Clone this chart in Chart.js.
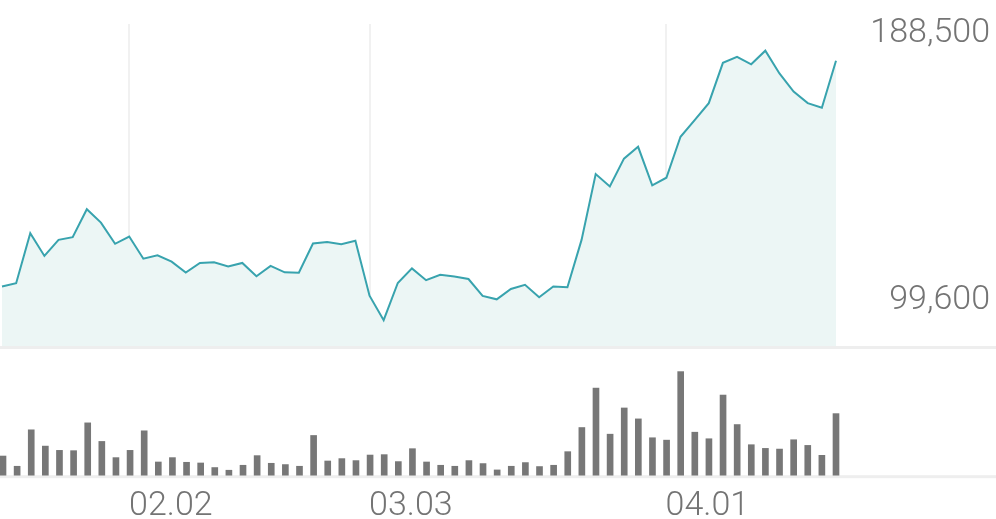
<!DOCTYPE html>
<html lang="ko">
<head>
<meta charset="UTF-8">
<title>Price chart</title>
<style>
    body { margin: 0; background: #ffffff; }
    .wrap { position: relative; width: 996px; height: 519px; overflow: hidden; }
    #priceChart { position: absolute; left: 0; top: 0; }
    #volumeChart { position: absolute; left: 0; top: 350px; }
</style>
<script src="https://cdn.jsdelivr.net/npm/chart.js"></script>
</head>
<body>
<div class="wrap">
    <canvas id="priceChart" width="996" height="350"></canvas>
    <canvas id="volumeChart" width="996" height="169"></canvas>
</div>
<script>
// trading days (MM.DD)
const dates = [
    '01.20', '01.21', '01.22', '01.23', '01.26', '01.27', '01.28', '01.29', '01.30',
    '02.02', '02.03', '02.04', '02.05', '02.06', '02.09', '02.10', '02.11', '02.12', '02.13',
    '02.19', '02.20', '02.23', '02.24', '02.25', '02.26', '02.27',
    '03.03', '03.04', '03.05', '03.06', '03.09', '03.10', '03.11', '03.12', '03.13',
    '03.16', '03.17', '03.18', '03.19', '03.20', '03.23', '03.24', '03.25', '03.26', '03.27',
    '03.30', '03.31',
    '04.01', '04.02', '04.03', '04.06', '04.07', '04.08', '04.09', '04.10', '04.13', '04.14',
    '04.15', '04.16', '04.17'
];

// labels shown under the chart
const tickLabels = ['02.02', '03.03', '04.01'];

// closing price (won)
const prices = [
    110700, 111800, 128300, 120800, 126100, 127000, 136200, 131800, 124800,
    127200, 119900, 121000, 118900, 115300, 118500, 118700, 117300, 118500,
    114100, 117500, 115400, 115300, 124900, 125400, 124700, 125800,
    107700, 99600, 111900, 116700, 112800, 114600, 114000, 113200, 107600,
    106500, 109900, 111300, 107200, 110700, 110500, 126100, 147800, 143700, 152900,
    156800, 144100,
    146600, 160100, 165600, 171200, 184500, 186500, 184000, 188500, 181000, 175000,
    171200, 169700, 185200
];

// volume (thousand shares)
const volumes = [
    193, 90, 457, 293, 250, 247, 527, 340, 177,
    250, 447, 133, 177, 130, 123, 77, 50, 100,
    197, 120, 107, 90, 400, 143, 167, 147,
    203, 207, 137, 267, 133, 100, 90, 147, 117,
    53, 90, 127, 87, 100, 237, 480, 877, 413, 677,
    567, 377,
    353, 1043, 433, 367, 807, 510, 307, 270, 263, 357,
    300, 200, 620
];

const textColor = '#747474';
const labelFont = { family: 'Roboto', size: 34, weight: '300' };

// light full-width line under a chart area
const baseLinePlugin = {
    id: 'baseLine',
    beforeDatasetsDraw(chart) {
        const ctx = chart.ctx;
        const y = chart.chartArea.bottom;
        ctx.save();
        ctx.fillStyle = '#eeeeee';
        ctx.fillRect(0, y, chart.width, 3);
        ctx.restore();
    }
};

// high / low labels on the right side
const extremesPlugin = {
    id: 'extremes',
    afterDatasetsDraw(chart) {
        const ctx = chart.ctx;
        const yScale = chart.scales.y;
        const hi = Math.max(...prices);
        const lo = Math.min(...prices);
        ctx.save();
        ctx.font = '300 34px Roboto';
        ctx.fillStyle = textColor;
        ctx.textAlign = 'right';
        ctx.textBaseline = 'alphabetic';
        ctx.fillText(hi.toLocaleString('en-US'), 990, yScale.getPixelForValue(hi) - 9);
        ctx.fillText(lo.toLocaleString('en-US'), 990, yScale.getPixelForValue(lo) - 11);
        ctx.restore();
    }
};

new Chart(document.getElementById('priceChart'), {
    type: 'line',
    data: {
        labels: dates,
        datasets: [{
            data: prices,
            borderColor: '#38a3ae',
            borderWidth: 2,
            backgroundColor: '#ecf6f5',
            fill: 'start',
            pointRadius: 0,
            tension: 0
        }]
    },
    options: {
        responsive: false,
        animation: false,
        layout: { padding: { left: 2, right: 160, top: 24, bottom: 4 } },
        plugins: { legend: { display: false }, tooltip: { enabled: false } },
        scales: {
            x: {
                ticks: { display: false, autoSkip: false },
                grid: {
                    drawTicks: false,
                    lineWidth: 2,
                    color: (c) => tickLabels.includes(dates[c.index]) ? '#f1f1f1' : 'rgba(0,0,0,0)'
                },
                border: { display: false }
            },
            y: { display: false, min: 91100, max: 197300 }
        }
    },
    plugins: [baseLinePlugin, extremesPlugin]
});

new Chart(document.getElementById('volumeChart'), {
    type: 'bar',
    data: {
        labels: dates,
        datasets: [{
            data: volumes,
            backgroundColor: '#777777',
            barThickness: 6,
            clip: false
        }]
    },
    options: {
        responsive: false,
        animation: false,
        layout: { padding: { left: 2, right: 160, top: 10, bottom: -11 } },
        plugins: { legend: { display: false }, tooltip: { enabled: false } },
        scales: {
            x: {
                offset: false,
                grid: { display: false },
                border: { display: false },
                ticks: {
                    autoSkip: false,
                    maxRotation: 0,
                    align: 'start',
                    padding: 3,
                    labelOffset: -1,
                    color: textColor,
                    font: labelFont,
                    callback: (v, i) => tickLabels.includes(dates[i]) ? dates[i] : ''
                }
            },
            y: { display: false, min: 0, max: 1160 }
        }
    },
    plugins: [baseLinePlugin]
});
</script>
</body>
</html>
